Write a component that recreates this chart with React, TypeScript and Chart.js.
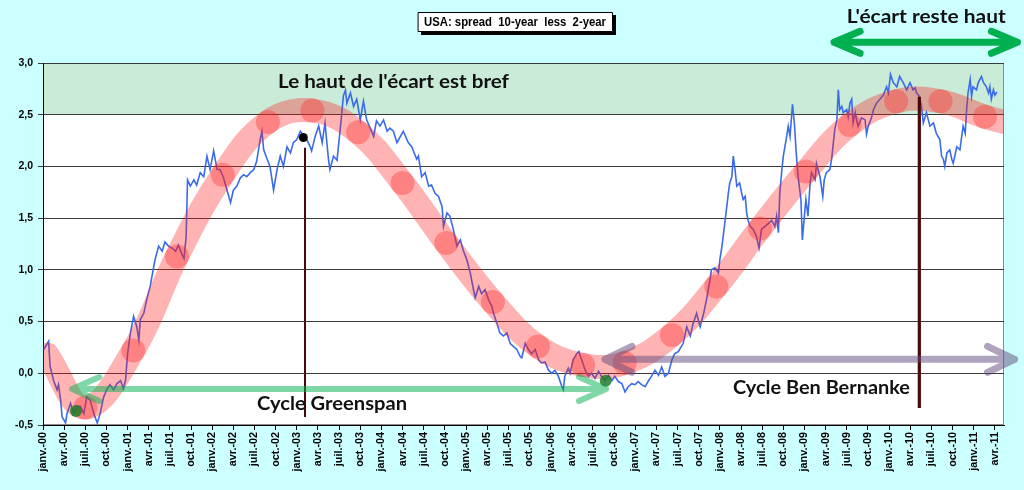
import React, { useEffect, useRef } from "react";
import { Chart, registerables } from "chart.js";

Chart.register(...registerables);

// ---------- axis ----------
const xRange = [0, 136.3]; // months since Jan 2000
const yRange = [-0.5, 3.0];
const highZone = [2.5, 3.0];
const tickMonths = [0, 3, 6, 9, 12, 15, 18, 21, 24, 27, 30, 33, 36, 39, 42, 45, 48, 51, 54, 57, 60, 63, 66, 69, 72, 75, 78, 81, 84, 87, 90, 93, 96, 99, 102, 105, 108, 111, 114, 117, 120, 123, 126, 129, 132, 135];
const tickLabels = ["janv.-00","avr.-00","juil.-00","oct.-00","janv.-01","avr.-01","juil.-01","oct.-01","janv.-02","avr.-02","juil.-02","oct.-02","janv.-03","avr.-03","juil.-03","oct.-03","janv.-04","avr.-04","juil.-04","oct.-04","janv.-05","avr.-05","juil.-05","oct.-05","janv.-06","avr.-06","juil.-06","oct.-06","janv.-07","avr.-07","juil.-07","oct.-07","janv.-08","avr.-08","juil.-08","oct.-08","janv.-09","avr.-09","juil.-09","oct.-09","janv.-10","avr.-10","juil.-10","oct.-10","janv.-11","avr.-11"];

// ---------- spread 10y - 2y (blue) ----------
const spreadMonths = [0.1,0.8,1.0,1.5,2.0,2.2,2.5,2.7,3.2,3.4,3.9,4.35,4.8,5.3,5.8,6.2,6.7,7.2,7.7,8.1,8.6,9.1,9.5,10.0,10.5,11.0,11.4,11.7,12.0,12.4,12.85,13.3,13.6,13.8,14.3,14.7,15.2,15.7,15.9,16.4,16.9,17.3,17.8,18.3,18.8,19.2,19.7,20.0,20.3,20.5,20.9,21.4,21.8,22.3,22.8,23.25,23.7,24.2,24.7,25.1,25.6,26.1,26.6,27.0,27.5,28.0,28.45,28.9,29.4,29.9,30.3,30.8,31.05,31.3,31.8,32.2,32.7,33.2,33.65,34.1,34.6,35.1,35.5,36.0,36.5,37.4,37.9,38.1,38.6,39.1,39.6,40.0,40.5,40.7,41.2,41.7,42.2,42.6,42.9,43.1,43.6,44.05,44.5,45.0,
45.45,45.9,46.9,47.3,47.8,48.3,48.8,49.2,49.7,50.2,51.1,51.8,52.3,53.0,53.25,53.7,54.2,54.7,55.1,55.6,56.1,56.6,56.8,57.3,57.7,58.2,58.7,59.2,59.6,60.1,60.6,61.05,61.3,61.8,62.2,62.7,63.2,63.65,63.9,64.4,64.8,65.3,65.8,66.25,66.7,67.2,67.7,67.9,68.4,68.85,69.3,69.8,70.3,70.7,71.2,71.7,72.15,72.6,73.1,73.6,73.8,74.0,74.5,74.75,75.2,75.7,76.0,76.4,76.9,77.35,77.8,78.3,78.8,79.2,79.7,80.2,80.7,81.1,81.6,82.1,82.55,83.0,83.5,84.0,84.4,84.9,85.4,85.9,86.3,86.8,87.3,87.75,88.2,88.7,89.2,89.6,90.1,
90.8,91.3,91.8,92.2,92.7,93.2,93.7,94.1,94.6,94.8,95.3,95.8,96.0,96.3,96.7,97.2,97.4,97.7,97.9,98.15,98.4,98.8,99.1,99.3,99.6,99.8,100.0,100.3,100.75,101.2,101.55,101.9,102.4,102.9,103.35,103.8,104.05,104.3,104.5,104.8,105.0,105.4,105.7,105.95,106.3,106.6,106.8,107.1,107.5,107.7,107.9,108.2,108.5,108.8,109.0,109.5,109.7,110.2,110.6,110.8,111.1,111.6,111.85,112.1,112.3,112.6,112.8,113.0,113.3,113.5,114.0,114.2,114.45,114.7,114.9,115.2,115.4,115.6,116.1,116.6,116.8,117.05,117.5,117.8,118.2,118.7,119.2,119.65,119.9,120.2,120.6,121.1,121.5,122.0,122.5,122.96,123.4,123.7,123.9,124.3,124.6,124.85,125.3,125.8,126.3,126.7,127.2,127.45,127.7,127.9,128.2,128.6,128.9,129.1,129.6,130.05,130.3,130.5,130.8,131.0,131.2,131.5,131.7,131.9,132.4,132.65,133.1,133.4,133.8,134.1,134.3,134.5,134.8,135.0,135.3];
const spreadValues = [0.23,0.31,0.07,-0.07,-0.16,-0.11,-0.26,-0.42,-0.48,-0.39,-0.29,-0.39,-0.32,-0.32,-0.39,-0.23,-0.26,-0.39,-0.48,-0.39,-0.23,-0.15,-0.11,-0.16,-0.10,-0.07,-0.15,-0.07,0.19,0.39,0.55,0.45,0.32,0.52,0.58,0.71,0.84,1.03,1.10,1.23,1.18,1.27,1.23,1.21,1.18,1.24,1.15,1.11,1.32,1.87,1.81,1.87,1.82,1.94,1.90,2.10,1.97,2.15,1.97,1.97,1.89,1.77,1.65,1.77,1.81,1.89,1.92,1.90,1.94,1.97,2.05,2.26,2.34,2.16,2.07,2.00,1.77,1.97,2.10,2.00,2.19,2.13,2.23,2.26,2.34,2.26,2.19,2.15,2.29,2.39,2.23,2.42,2.06,1.97,2.10,2.06,2.39,2.68,2.74,2.61,2.71,2.58,2.65,2.45,
2.63,2.45,2.29,2.44,2.39,2.45,2.34,2.37,2.34,2.23,2.34,2.23,2.19,2.07,2.10,1.90,1.94,1.81,1.82,1.74,1.71,1.61,1.42,1.55,1.52,1.39,1.23,1.29,1.19,1.10,0.97,0.81,0.73,0.84,0.77,0.81,0.71,0.65,0.58,0.48,0.39,0.36,0.39,0.29,0.26,0.23,0.16,0.15,0.29,0.23,0.19,0.23,0.13,0.10,0.11,0.03,0.00,0.03,-0.03,-0.13,-0.16,-0.03,0.05,0.00,0.13,0.19,0.21,0.13,0.03,-0.03,0.00,-0.05,0.02,-0.03,-0.07,-0.02,-0.07,-0.03,-0.08,-0.10,-0.18,-0.13,-0.10,-0.11,-0.08,-0.11,-0.13,-0.07,-0.03,0.03,-0.02,0.06,-0.03,0.00,0.13,0.19,0.21,
0.29,0.45,0.36,0.48,0.58,0.45,0.58,0.71,0.90,1.00,1.02,0.97,1.10,1.23,1.45,1.74,1.84,1.90,2.10,1.97,1.81,1.84,1.74,1.68,1.71,1.55,1.48,1.42,1.39,1.32,1.21,1.39,1.42,1.45,1.48,1.42,1.52,1.36,1.74,1.97,2.10,2.26,2.39,2.29,2.60,2.39,2.16,1.90,1.68,1.29,1.45,1.68,1.52,1.84,1.94,1.87,2.03,1.90,1.71,1.87,1.94,1.97,2.07,2.23,2.36,2.45,2.74,2.55,2.58,2.52,2.55,2.48,2.61,2.65,2.42,2.52,2.45,2.39,2.47,2.45,2.31,2.39,2.47,2.55,2.61,2.65,2.69,2.77,2.71,2.89,2.81,2.77,2.87,2.81,2.74,2.81,2.74,2.76,2.71,2.68,2.58,2.42,2.52,2.39,2.42,2.32,2.26,2.10,2.07,2.00,2.13,2.16,2.07,2.03,2.19,2.16,2.29,2.39,2.32,2.55,2.71,2.84,2.68,2.77,2.74,2.81,2.87,2.81,2.77,2.71,2.77,2.65,2.74,2.69,2.72];

// ---------- cycle trend (pink band) and its dots ----------
const trendMonths = [0.6, 6.0, 12.8, 19.0, 25.5, 31.9, 38.2, 44.7, 51.0, 57.2, 63.8, 70.2, 76.6, 82.5, 89.2, 95.5, 101.7, 108.2, 114.4, 121.0, 127.3, 133.6, 136.3];
const trendValues = [0.18, -0.33, 0.22, 1.13, 1.92, 2.43, 2.54, 2.33, 1.84, 1.26, 0.69, 0.26, 0.08, 0.10, 0.37, 0.84, 1.40, 1.95, 2.40, 2.63, 2.63, 2.48, 2.43];
const cycleDotMonths = [6.0, 12.8, 19.0, 25.5, 31.9, 38.2, 44.7, 51.0, 57.2, 63.8, 70.2, 76.6, 82.5, 89.2, 95.5, 101.7, 108.2, 114.4, 121.0, 127.3, 133.6];
const cycleDotValues = [-0.33, 0.22, 1.13, 1.92, 2.43, 2.54, 2.33, 1.84, 1.26, 0.69, 0.26, 0.08, 0.10, 0.37, 0.84, 1.40, 1.95, 2.40, 2.63, 2.63, 2.48];

// ---------- markers ----------
const peakDotMonths = [36.92];
const peakDotValues = [2.28];
const troughDotMonths = [4.68, 79.81];
const troughDotValues = [-0.365, -0.072];
const greenspanLineMonths = [37.16, 37.16];
const greenspanLineValues = [2.18, -0.423];
const bernankeLineMonths = [124.29, 124.29];
const bernankeLineValues = [2.674, -0.336];

// ---------- annotations (data coordinates) ----------
const titleText = "USA: spread  10-year  less  2-year";
const noteTexts = ["Le haut de l'écart est bref", "Cycle Greenspan", "Cycle Ben Bernanke", "L'écart reste haut"];
const noteMonths = [33.33, 30.35, 97.86, 113.99];
const noteValues = [2.758, -0.355, -0.2, 3.39];
const noteWidths = [231, 150, 177, 159];
const arrowFrom = [4.15, 79.7, 112.2];
const arrowTo = [79.85, 137.8, 138.2];
const arrowValues = [-0.152, 0.135, 3.2];

const arrowStyles = [
  { color: "rgba(0,176,80,0.5)", width: 6, hx: 27, hy: 12 },
  { color: "rgba(96,74,123,0.5)", width: 7, hx: 27, hy: 13 },
  { color: "#00B050", width: 7, hx: 26, hy: 11 },
];

const pts = (xs: number[], ys: number[]) => xs.map((x, i) => ({ x, y: ys[i] }));

function fittedText(ctx: CanvasRenderingContext2D, text: string, x: number, y: number, width: number) {
  const w = ctx.measureText(text).width;
  ctx.save();
  ctx.translate(x, y);
  ctx.scale(width / w, 1);
  ctx.fillText(text, 0, 0);
  ctx.restore();
}

const backgroundPlugin = {
  id: "plotBackground",
  beforeDraw(chart: any) {
    const { ctx, chartArea: a, scales } = chart;
    ctx.save();
    ctx.fillStyle = "#FFFFFF";
    ctx.fillRect(a.left, a.top, a.right - a.left, a.bottom - a.top);
    const y1 = scales.y.getPixelForValue(highZone[1]);
    const y2 = scales.y.getPixelForValue(highZone[0]);
    ctx.fillStyle = "#C9EBD8";
    ctx.fillRect(a.left, y1, a.right - a.left, y2 - y1);
    ctx.strokeStyle = "#8C8C8C";
    ctx.lineWidth = 1;
    ctx.strokeRect(a.left + 0.5, a.top + 0.5, a.right - a.left - 1, a.bottom - a.top - 1);
    ctx.restore();
  },
};

const annotationPlugin = {
  id: "notes",
  afterDraw(chart: any) {
    const { ctx, scales } = chart;
    const X = (m: number) => scales.x.getPixelForValue(m);
    const Y = (v: number) => scales.y.getPixelForValue(v);
    ctx.save();
    // arrows
    arrowFrom.forEach((f, i) => {
      const s = arrowStyles[i];
      const x1 = X(f), x2 = X(arrowTo[i]), y = Y(arrowValues[i]);
      ctx.beginPath();
      ctx.moveTo(x1, y);
      ctx.lineTo(x2, y);
      ctx.moveTo(x1 + s.hx, y - s.hy);
      ctx.lineTo(x1, y);
      ctx.lineTo(x1 + s.hx, y + s.hy);
      ctx.moveTo(x2 - s.hx, y - s.hy);
      ctx.lineTo(x2, y);
      ctx.lineTo(x2 - s.hx, y + s.hy);
      ctx.strokeStyle = s.color;
      ctx.lineWidth = s.width;
      ctx.lineCap = "round";
      ctx.lineJoin = "round";
      ctx.stroke();
    });
    // texts
    ctx.fillStyle = "#111111";
    ctx.textAlign = "left";
    ctx.textBaseline = "alphabetic";
    ctx.font = 'bold 18px Lato, "Open Sans", sans-serif';
    noteTexts.forEach((t, i) => {
      fittedText(ctx, t, X(noteMonths[i]), Y(noteValues[i]), noteWidths[i]);
    });
    // title box
    ctx.fillStyle = "#000000";
    ctx.fillRect(421, 15, 195, 20);
    ctx.fillStyle = "#FFFFFF";
    ctx.fillRect(418, 12, 195, 20);
    ctx.strokeStyle = "#000000";
    ctx.lineWidth = 1;
    ctx.strokeRect(418.5, 12.5, 194, 19);
    ctx.fillStyle = "#000000";
    ctx.font = 'bold 12px "Liberation Sans Narrow", "Liberation Sans", Arial, sans-serif';
    ctx.textBaseline = "middle";
    fittedText(ctx, titleText, 424, 22.5, 182);
    ctx.restore();
  },
};

export default function App() {
  const canvasRef = useRef<HTMLCanvasElement>(null);

  useEffect(() => {
    const canvas = canvasRef.current;
    if (!canvas) return;
    Chart.defaults.font.family = '"Liberation Sans", Arial, sans-serif';
    const chart = new Chart(canvas, {
      type: "line",
      data: {
        datasets: [
          {
            label: "Greenspan marker",
            data: pts(greenspanLineMonths, greenspanLineValues),
            borderColor: "#4A0808",
            borderWidth: 2,
            pointRadius: 0,
            order: 1,
          },
          {
            label: "Bernanke marker",
            data: pts(bernankeLineMonths, bernankeLineValues),
            borderColor: "#4A0808",
            borderWidth: 3.2,
            pointRadius: 0,
            order: 1,
          },
          {
            label: "peak",
            data: pts(peakDotMonths, peakDotValues),
            showLine: false,
            pointRadius: 4.5,
            pointBackgroundColor: "#000000",
            pointBorderWidth: 0,
            order: 2,
          },
          {
            label: "troughs",
            data: pts(troughDotMonths, troughDotValues),
            showLine: false,
            pointRadius: 6,
            pointBackgroundColor: "rgba(30,125,45,0.85)",
            pointBorderWidth: 0,
            order: 3,
          },
          {
            label: "cycle dots",
            data: pts(cycleDotMonths, cycleDotValues),
            showLine: false,
            pointRadius: 12,
            pointBackgroundColor: "rgba(255,40,40,0.35)",
            pointBorderWidth: 0,
            order: 8,
          },
          {
            label: "cycle",
            data: pts(trendMonths, trendValues),
            borderColor: "rgba(255,20,20,0.32)",
            borderWidth: 24,
            borderCapStyle: "round",
            tension: 0.4,
            pointRadius: 0,
            clip: 0,
            order: 9,
          },
          {
            label: "USA: spread 10-year less 2-year",
            data: pts(spreadMonths, spreadValues),
            borderColor: "#3A6BEA",
            borderWidth: 1.6,
            pointRadius: 0,
            tension: 0,
            order: 10,
          },
        ] as any,
      },
      options: {
        animation: false,
        responsive: false,
        events: [],
        layout: { padding: { top: 63, right: 20, left: 0, bottom: 0 } },
        plugins: { legend: { display: false }, tooltip: { enabled: false }, title: { display: false } },
        scales: {
          x: {
            type: "linear",
            min: xRange[0],
            max: xRange[1],
            afterBuildTicks: (axis: any) => {
              axis.ticks = tickMonths.map((v) => ({ value: v }));
            },
            afterFit: (axis: any) => {
              axis.height = 65;
              axis.paddingLeft = 0;
              axis.paddingRight = 0;
            },
            ticks: {
              autoSkip: false,
              maxRotation: 90,
              minRotation: 90,
              padding: 2,
              color: "#000000",
              font: { size: 10.8, weight: "bold" },
              callback: (value: any) => tickLabels[tickMonths.indexOf(Number(value))] ?? "",
            },
            grid: { drawOnChartArea: false, drawTicks: true, tickLength: 5, color: "#000000" },
            border: { color: "#000000", width: 1 },
          },
          y: {
            type: "linear",
            min: yRange[0],
            max: yRange[1],
            afterFit: (axis: any) => {
              axis.width = 43;
              axis.paddingTop = 0;
              axis.paddingBottom = 0;
            },
            ticks: {
              stepSize: 0.5,
              padding: 5,
              color: "#000000",
              font: { size: 10.5, weight: "bold" },
              callback: (value: any) => Number(value).toFixed(1).replace(".", ","),
            },
            grid: { color: "#3A3A3A", lineWidth: 1, tickLength: 5, drawTicks: true },
            border: { color: "#000000", width: 1 },
          },
        },
      } as any,
      plugins: [backgroundPlugin, annotationPlugin],
    });
    return () => chart.destroy();
  }, []);

  return (
    <div style={{ position: "absolute", left: 0, top: 0, width: 1024, height: 490, background: "#CCFFFF", overflow: "hidden" }}>
      <canvas ref={canvasRef} width={1024} height={490} style={{ display: "block", width: 1024, height: 490 }} />
    </div>
  );
}
